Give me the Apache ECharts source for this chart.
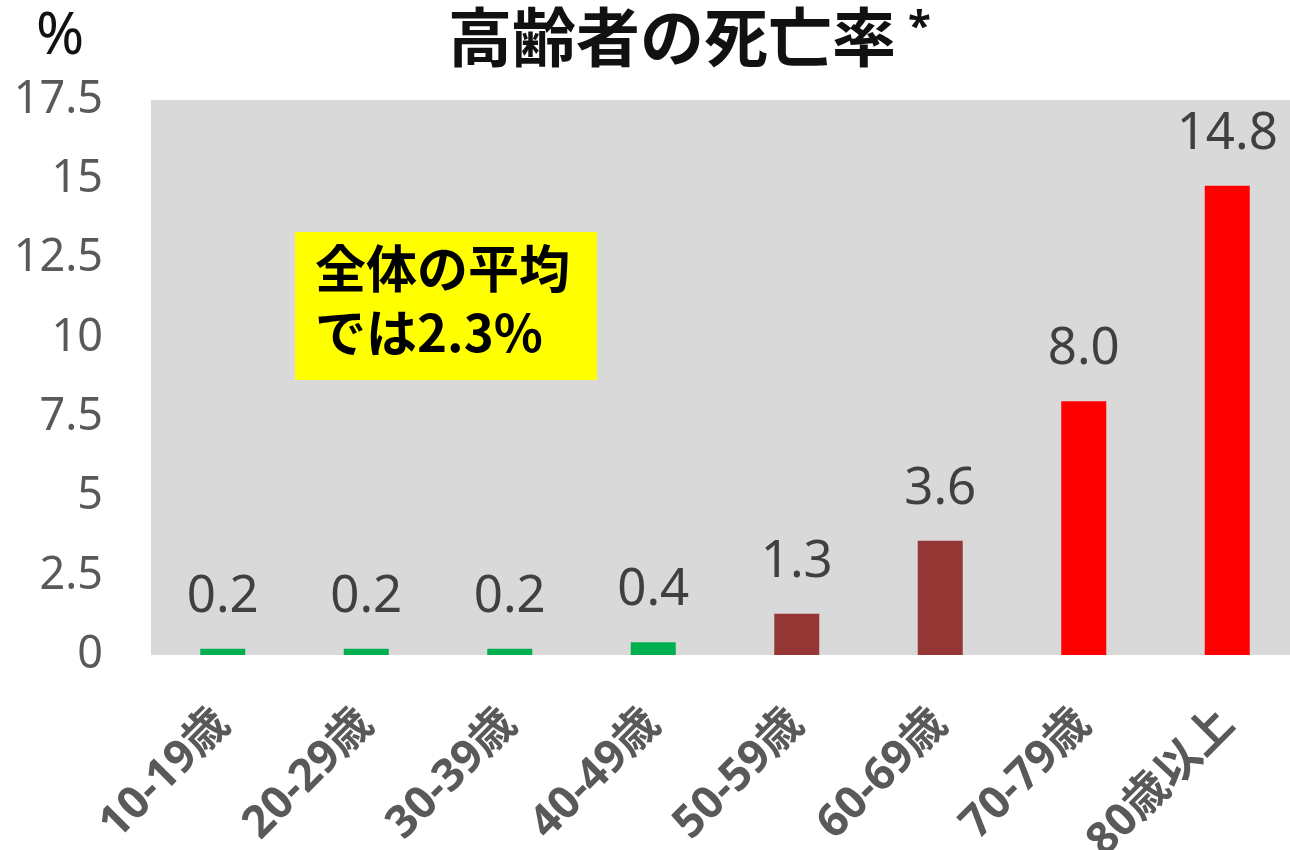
<!DOCTYPE html>
<html>
<head>
<meta charset="utf-8">
<script src="https://cdn.jsdelivr.net/npm/echarts@6/dist/echarts.min.js"></script>
<style>
  html, body { margin: 0; padding: 0; background: #fff; }
  #chart { width: 1290px; height: 850px; }
</style>
</head>
<body>
<div id="chart"></div>
<script>
const ageGroups = ['10-19歳', '20-29歳', '30-39歳', '40-49歳', '50-59歳', '60-69歳', '70-79歳', '80歳以上'];
const deathRates = [0.2, 0.2, 0.2, 0.4, 1.3, 3.6, 8.0, 14.8];
const barColors = ['#00b050', '#00b050', '#00b050', '#00b050', '#953735', '#953735', '#ff0000', '#ff0000'];
const yTicks = [0, 2.5, 5, 7.5, 10, 12.5, 15, 17.5];

const cjk = '"Noto Sans CJK JP", "Noto Sans", sans-serif';
const latin = '"Noto Sans", "Noto Sans CJK JP", sans-serif';

const chart = echarts.init(document.getElementById('chart'));

chart.setOption({
  backgroundColor: '#ffffff',
  animation: false,
  title: {
    text: '{a|高齢者の死亡率}{b|*}',
    left: 443,
    top: 0,
    textStyle: {
      rich: {
        a: { fontFamily: cjk, fontSize: 64, fontWeight: 'bold', color: '#111' },
        b: { fontFamily: latin, fontSize: 42, color: '#111', padding: [0, 0, 18, 12] },
      },
    },
  },
  graphic: [{
    type: 'text',
    left: 36,
    top: 8,
    style: { text: '%', fontFamily: latin, fontSize: 58, fill: '#111' },
  }, {
    type: 'text',
    left: 295,
    top: 232,
    style: {
      text: '全体の平均\nでは2.3%',
      fontFamily: cjk,
      fontSize: 51,
      fontWeight: 'bold',
      lineHeight: 64,
      fill: '#000',
      backgroundColor: '#ffff00',
      padding: [5, 27, 15, 20],
    },
  }],
  grid: {
    left: 151,
    right: -9,
    top: 100,
    bottom: 195,
    outerBoundsMode: 'none',
    show: true,
    backgroundColor: '#d9d9d9',
    borderWidth: 0,
  },
  xAxis: {
    type: 'category',
    data: ageGroups,
    axisLine: { show: false },
    axisTick: { show: false },
    axisLabel: {
      rotate: 45,
      margin: 62,
      interval: 0,
      fontFamily: latin,
      fontSize: 45,
      fontWeight: 'bold',
      color: '#595959',
    },
  },
  yAxis: {
    type: 'value',
    min: yTicks[0],
    max: yTicks[yTicks.length - 1],
    interval: 2.5,
    splitLine: { show: false },
    axisLine: { show: false },
    axisTick: { show: false },
    axisLabel: {
      margin: 48,
      fontFamily: latin,
      fontSize: 45,
      color: '#595959',
    },
  },
  series: [{
    type: 'bar',
    data: deathRates.map((v, i) => ({ value: v, itemStyle: { color: barColors[i] } })),
    barWidth: 45,
    label: {
      show: true,
      position: 'top',
      distance: 26,
      fontFamily: latin,
      fontSize: 51,
      color: '#404040',
      formatter: (p) => p.value.toFixed(1),
    },
  }],
});
</script>
</body>
</html>
